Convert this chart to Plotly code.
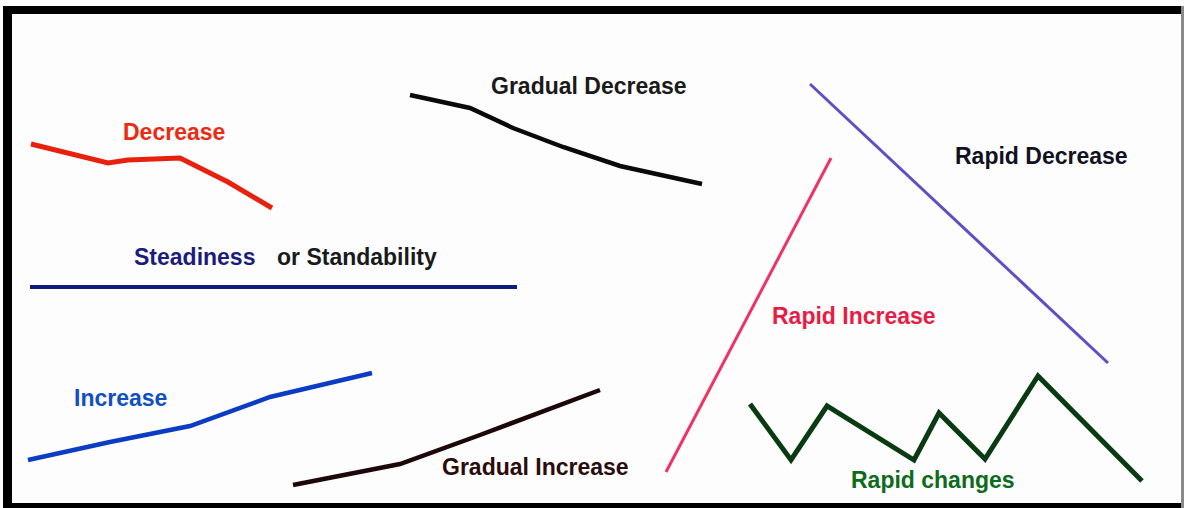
import plotly.graph_objects as go

W, H = 1184, 508

# Trend sketches (pixel-like coordinates)
decrease_x = [31, 108, 128, 180, 228, 272]
decrease_y = [144, 163, 160, 158, 182, 208]

steady_x = [30, 517]
steady_y = [287, 287]

grad_dec_x = [410, 470, 513, 563, 620, 702]
grad_dec_y = [95, 108, 128, 147, 166, 184]

increase_x = [28, 110, 190, 230, 270, 372]
increase_y = [460, 442, 426, 411, 397, 373]

grad_inc_x = [293, 357, 400, 480, 540, 600]
grad_inc_y = [485, 473, 464, 435, 413, 390]

rapid_inc_x = [666, 831]
rapid_inc_y = [472, 158]

rapid_dec_x = [810, 1108]
rapid_dec_y = [84, 363]

rapid_chg_x = [750, 791, 827, 914, 939, 985, 1038, 1142]
rapid_chg_y = [404, 460, 406, 460, 413, 459, 376, 481]

series = [
    (decrease_x, decrease_y, "#e8200e", 5),
    (steady_x, steady_y, "#0c1c80", 4),
    (grad_dec_x, grad_dec_y, "#0a0a0a", 4.5),
    (increase_x, increase_y, "#0a3cc4", 4.5),
    (grad_inc_x, grad_inc_y, "#1c0808", 4.5),
    (rapid_inc_x, rapid_inc_y, "#ee3366", 3),
    (rapid_dec_x, rapid_dec_y, "#5e50c4", 3),
    (rapid_chg_x, rapid_chg_y, "#0a3a12", 5),
]

label_text = ["Decrease", "Gradual Decrease", "Rapid Decrease", "Steadiness",
              "or Standability", "Rapid Increase", "Increase",
              "Gradual Increase", "Rapid changes"]
label_x = [174, 589, 1041, 194, 357, 854, 120, 535, 933]
label_y = [132, 86, 156, 257, 257, 316, 398, 467, 480]
label_color = ["#ec2a10", "#1a1a1a", "#111122", "#1c1c7c", "#1a1a1a",
               "#e81c44", "#1050c4", "#2a0c0c", "#0e6a1c"]

fig = go.Figure()
for xs, ys, col, w in series:
    fig.add_trace(go.Scatter(x=xs, y=ys, mode="lines",
                             line=dict(color=col, width=w),
                             hoverinfo="skip", showlegend=False))

for t, x, y, c in zip(label_text, label_x, label_y, label_color):
    fig.add_annotation(x=x, y=y, text="<b>%s</b>" % t, showarrow=False,
                       xanchor="center", yanchor="middle",
                       font=dict(family="Liberation Sans, Arial", size=23, color=c))

# picture frame
fig.add_shape(type="rect", xref="x", yref="y", x0=3, x1=1184, y0=6, y1=14,
              fillcolor="#000000", line_width=0, layer="above")
fig.add_shape(type="rect", xref="x", yref="y", x0=3, x1=12, y0=6, y1=508,
              fillcolor="#000000", line_width=0, layer="above")
fig.add_shape(type="rect", xref="x", yref="y", x0=3, x1=1184, y0=503, y1=508,
              fillcolor="#000000", line_width=0, layer="above")
fig.add_shape(type="rect", xref="x", yref="y", x0=1181, x1=1184, y0=6, y1=508,
              fillcolor="#8a8a8a", line_width=0, layer="above")

fig.update_xaxes(range=[0, W], visible=False, fixedrange=True)
fig.update_yaxes(range=[H, 0], visible=False, fixedrange=True)
fig.update_layout(width=W, height=H, margin=dict(l=0, r=0, t=0, b=0),
                  paper_bgcolor="white", plot_bgcolor="#fdfdfd")

fig.write_html("out.html", config={"displayModeBar": False},
               post_script="document.body.style.margin='0';document.body.style.overflow='hidden';")
